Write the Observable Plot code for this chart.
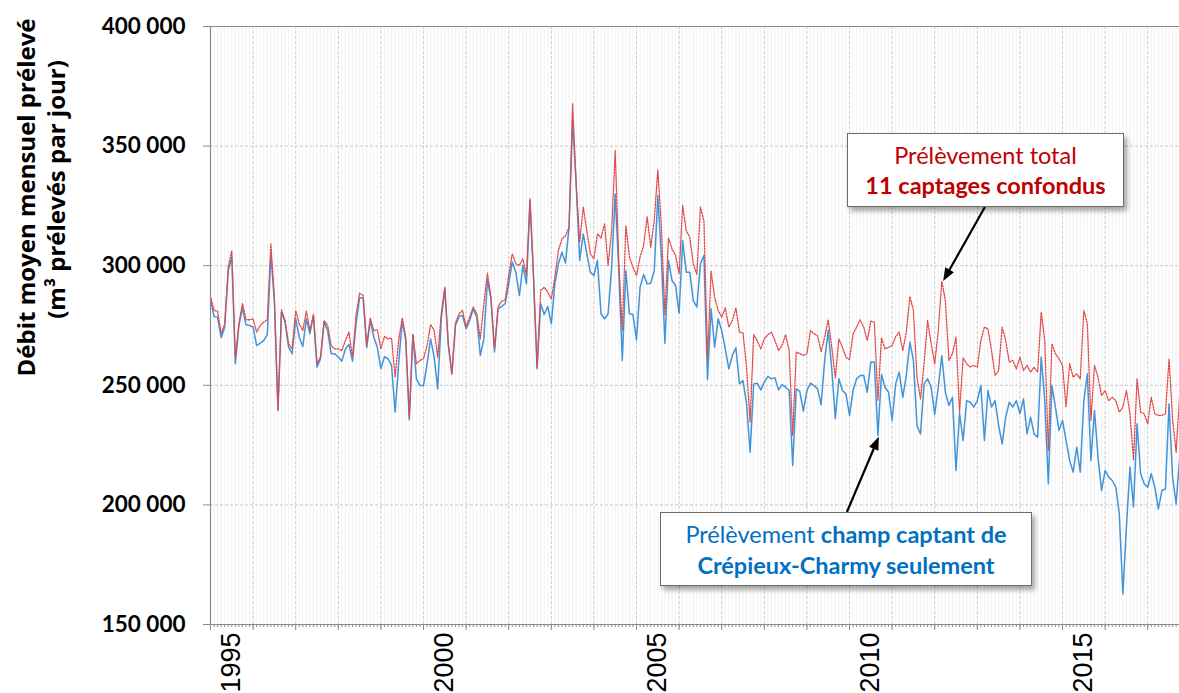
<!DOCTYPE html>
<html><head><meta charset="utf-8">
<script src="https://cdn.jsdelivr.net/npm/d3@7"></script>
<script src="https://cdn.jsdelivr.net/npm/@observablehq/plot@0.6"></script>
<style>
body{margin:0;background:#fff;}
#wrap{position:relative;width:1179px;height:693px;overflow:hidden;font-family:Lato, sans-serif;}
.box{position:absolute;background:#fff;border:1px solid #6b6b6b;box-shadow:3px 4px 5px rgba(0,0,0,0.35);text-align:center;font-size:23.5px;box-sizing:border-box;white-space:nowrap;}
</style></head><body>
<div id="wrap"></div>
<script>
const startYear = 1995;
// Prélèvement total (milliers de m3/jour), mensuel depuis janvier 1995
const total = [
287.1, 281.3, 281.0, 271.5, 275.7, 299.4, 306.4, 261.1, 275.7, 284.3, 277.4, 277.4,
277.8, 272.2, 275.0, 276.4, 277.4, 309.1, 287.0, 239.5, 281.5, 277.1, 267.3, 265.2,
281.3, 275.7, 272.9, 281.0, 272.9, 279.6, 259.0, 262.0, 277.1, 275.0, 266.6, 265.2,
265.2, 264.5, 268.7, 272.2, 261.8, 279.2, 288.5, 287.6, 266.6, 278.2, 272.9, 273.2,
265.2, 270.4, 269.4, 269.8, 253.4, 268.7, 278.2, 270.1, 236.7, 271.2, 259.0, 260.4,
261.1, 266.6, 275.4, 272.9, 261.8, 279.9, 291.0, 267.3, 254.8, 276.0, 279.9, 281.3,
274.3, 278.5, 282.7, 279.9, 269.4, 284.1, 296.9, 286.8, 265.2, 282.7, 285.2, 285.7,
295.9, 305.0, 300.8, 300.1, 302.9, 295.9, 327.9, 295.2, 257.6, 289.6, 291.0, 288.9,
286.1, 295.2, 306.4, 311.2, 312.6, 316.1, 367.7, 334.2, 309.8, 324.5, 314.7, 305.0,
302.9, 313.3, 311.6, 317.5, 300.1, 314.7, 348.2, 302.2, 272.9, 316.8, 303.6, 299.4,
295.9, 303.6, 308.4, 320.5, 307.7, 318.9, 340.1, 316.8, 279.2, 311.6, 307.0, 304.3,
296.6, 325.2, 314.7, 311.9, 300.8, 296.3, 324.5, 318.6, 261.1, 297.7, 286.8, 281.3,
278.5, 282.4, 274.3, 277.1, 282.4, 272.2, 271.8, 257.6, 234.6, 271.2, 268.7, 265.2,
269.4, 271.2, 272.2, 268.7, 264.5, 266.6, 271.2, 264.5, 229.0, 263.9, 263.2, 262.5,
263.2, 272.9, 271.5, 270.8, 263.9, 270.1, 277.4, 265.9, 253.1, 269.4, 265.9, 261.8,
260.7, 271.5, 274.3, 277.4, 274.3, 268.7, 276.8, 276.4, 243.6, 269.9, 265.2, 265.9,
266.6, 270.4, 272.2, 264.5, 272.2, 287.1, 281.3, 253.4, 244.3, 259.0, 277.1, 267.4,
259.0, 272.9, 293.5, 285.4, 260.4, 263.2, 270.1, 238.8, 261.5, 259.0, 257.6, 258.3,
257.6, 268.7, 274.3, 273.6, 264.6, 254.1, 256.2, 274.3, 268.7, 259.7, 260.4, 256.9,
261.8, 256.2, 258.3, 255.5, 257.6, 255.5, 280.6, 268.7, 222.7, 267.3, 263.2, 261.1,
258.3, 240.9, 259.0, 253.4, 254.8, 252.7, 281.3, 275.7, 235.3, 258.3, 253.4, 245.7,
247.8, 243.6, 245.0, 243.6, 238.8, 240.9, 247.8, 238.1, 218.6, 252.7, 238.8, 238.1,
233.9, 245.0, 238.1, 237.4, 237.4, 238.1, 261.1, 236.0, 222.0, 246.0
];
// Champ captant de Crépieux-Charmy seulement
const crepieux = [
286.1, 278.8, 278.5, 269.9, 274.3, 298.0, 303.6, 259.0, 275.0, 282.4, 275.3, 275.0,
274.3, 266.6, 267.6, 268.7, 271.2, 305.0, 285.0, 239.5, 280.6, 276.4, 265.9, 263.2,
277.8, 270.1, 266.2, 277.8, 271.5, 279.2, 257.6, 261.1, 276.4, 272.9, 263.2, 263.2,
261.8, 260.1, 265.2, 267.1, 260.1, 275.7, 286.6, 286.6, 265.7, 277.1, 270.1, 265.9,
256.9, 262.0, 261.1, 258.3, 238.8, 259.0, 277.1, 268.7, 235.6, 271.2, 252.7, 249.9,
249.9, 259.0, 269.4, 261.8, 248.5, 277.8, 290.3, 266.6, 254.8, 275.0, 278.8, 279.2,
273.6, 277.1, 282.0, 278.5, 262.5, 269.4, 294.1, 286.1, 263.9, 282.0, 283.0, 284.1,
292.4, 301.5, 297.3, 287.5, 300.1, 292.4, 327.2, 294.5, 256.9, 284.1, 279.6, 283.0,
275.7, 292.4, 300.8, 305.6, 301.1, 316.1, 361.0, 334.2, 302.2, 313.3, 305.0, 297.3,
295.9, 302.2, 279.9, 277.8, 279.9, 299.4, 330.0, 298.0, 260.4, 298.0, 279.9, 279.6,
269.0, 291.0, 296.3, 292.4, 292.7, 298.0, 329.3, 303.6, 267.6, 302.2, 293.8, 291.7,
280.1, 310.5, 297.3, 297.3, 285.4, 282.7, 300.8, 304.3, 252.3, 282.0, 265.9, 277.8,
272.9, 265.2, 256.9, 262.5, 265.7, 250.6, 252.0, 242.3, 222.0, 250.6, 250.9, 248.1,
251.3, 253.7, 252.7, 253.1, 248.1, 250.3, 249.2, 247.8, 216.5, 248.5, 247.5, 239.2,
247.8, 250.9, 249.9, 248.5, 241.9, 260.4, 272.9, 256.9, 236.0, 252.7, 247.8, 246.4,
237.4, 247.8, 252.7, 254.1, 254.1, 247.1, 259.7, 259.7, 229.0, 254.5, 249.2, 247.1,
235.3, 250.6, 255.5, 245.0, 254.1, 268.0, 260.4, 233.2, 229.7, 250.6, 252.7, 249.2,
237.8, 249.2, 262.4, 247.1, 241.6, 245.0, 214.4, 238.4, 226.9, 243.6, 242.9, 240.9,
243.6, 249.9, 226.9, 247.8, 240.9, 243.6, 233.2, 225.5, 236.7, 242.9, 240.9, 243.6,
238.1, 244.3, 229.7, 236.7, 229.7, 228.3, 261.8, 243.6, 208.8, 249.9, 240.9, 231.1,
235.3, 226.9, 218.6, 213.7, 224.1, 213.7, 243.6, 254.8, 218.6, 239.5, 220.0, 206.0,
214.4, 211.6, 210.2, 207.4, 196.3, 162.8, 190.7, 215.8, 199.1, 233.9, 213.0, 208.8,
207.4, 213.0, 207.4, 198.3, 206.0, 206.7, 242.3, 211.6, 200.4, 220.0
];
const yTicks = [150, 200, 250, 300, 350, 400];
const yearLabels = [1995, 2000, 2005, 2010, 2015];
const yTitle = ["Débit moyen mensuel prélevé", "(m³ prélevés par jour)"];
const arrows = [
  {x1: 2013.19, y1: 324.3, x2: 2012.21, y2: 293.4},
  {x1: 2009.95, y1: 196.8, x2: 2010.70, y2: 228.3}
];

const data = total.map((v, i) => ({t: startYear + i / 12, total: v, crepieux: crepieux[i]}));
const months = d3.range(total.length).map(i => startYear + i / 12);
const years = d3.range(1995, 2018);

const plot = Plot.plot({
  width: 1179, height: 693,
  marginLeft: 210, marginRight: 0, marginTop: 26, marginBottom: 69,
  x: {domain: [1995, 2017.746], axis: null},
  y: {domain: [150, 400], axis: null},
  style: {fontFamily: "Lato, sans-serif", background: "white"},
  marks: [
    Plot.ruleX(months, {stroke: "#f1f1f1", strokeWidth: 1}),
    Plot.ruleX(years.slice(1), {stroke: "#cfcfcf", strokeDasharray: "3,2"}),
    Plot.ruleY(yTicks.slice(1, -1), {stroke: "#c8c8c8", strokeDasharray: "3,2"}),
    Plot.ruleY([400], {stroke: "#8a8a8a"}),
    Plot.line(data, {x: "t", y: "crepieux", stroke: "#4393d8", strokeWidth: 1.5}),
    Plot.line(data, {x: "t", y: "total", stroke: "#e04848", strokeWidth: 1.3, strokeDasharray: "1.6,1.4"}),
    Plot.ruleX([1995], {stroke: "#8a8a8a", strokeWidth: 1.2}),
    Plot.ruleY([150], {stroke: "#8a8a8a", strokeWidth: 1.2}),
    Plot.axisY({ticks: yTicks, tickSize: 7, tickPadding: 18, tickFormat: d => d + " 000",
      fontSize: 22.5, fontWeight: "bold", stroke: "#8a8a8a", fill: "#000", label: null}),
    Plot.axisX({ticks: months, tickSize: 3, tickFormat: () => "", stroke: "#8a8a8a", label: null}),
    Plot.axisX({ticks: years, tickSize: 6, tickFormat: () => "", stroke: "#8a8a8a", label: null}),
    Plot.text(yearLabels, {x: d => d + 0.5, frameAnchor: "bottom", text: d => String(d),
      rotate: -90, textAnchor: "end", lineAnchor: "middle", dy: 8, fontSize: 27,
      fontFamily: "Liberation Sans", fill: "#000"}),
    Plot.text([yTitle[0]], {frameAnchor: "top-left", dx: -183, dy: 171, rotate: -90,
      textAnchor: "middle", lineAnchor: "middle", fontSize: 24, fontWeight: "bold",
      fontFamily: "Open Sans", fill: "#000"}),
    Plot.text([yTitle[1]], {frameAnchor: "top-left", dx: -153, dy: 163, rotate: -90,
      textAnchor: "middle", lineAnchor: "middle", fontSize: 24, fontWeight: "bold",
      fontFamily: "Open Sans", fill: "#000"})
  ]
});

const wrap = document.getElementById("wrap");
wrap.appendChild(plot);

const sx = plot.scale("x"), sy = plot.scale("y");
const g = d3.select(plot).append("g");
for (const a of arrows) {
  const x1 = sx.apply(a.x1), y1 = sy.apply(a.y1), x2 = sx.apply(a.x2), y2 = sy.apply(a.y2);
  const dx = x2 - x1, dy = y2 - y1, L = Math.hypot(dx, dy), ux = dx / L, uy = dy / L;
  const hl = 13, hw = 5;
  const bx = x2 - ux * hl, by = y2 - uy * hl;
  g.append("line").attr("x1", x1).attr("y1", y1).attr("x2", bx + ux * 1).attr("y2", by + uy * 1)
    .attr("stroke", "#000").attr("stroke-width", 2.2);
  g.append("path").attr("d", `M${x2},${y2}L${bx - uy * hw},${by + ux * hw}L${bx + uy * hw},${by - ux * hw}Z`)
    .attr("fill", "#000");
}

function box(left, top, w, h, html, color, pad, lh) {
  const d = document.createElement("div");
  d.className = "box";
  Object.assign(d.style, {left: left + "px", top: top + "px", width: w + "px", height: h + "px",
    color, paddingTop: pad + "px", lineHeight: lh + "px"});
  d.innerHTML = html;
  wrap.appendChild(d);
}
box(847, 133, 277, 74, 'Prélèvement total<br><b>11 captages confondus</b>', "#C00000", 6, 30);
box(660, 512, 372, 74, 'Prélèvement <b>champ captant de</b><br><b>Crépieux-Charmy seulement</b>', "#0070C0", 6, 31);
</script>
</body></html>
